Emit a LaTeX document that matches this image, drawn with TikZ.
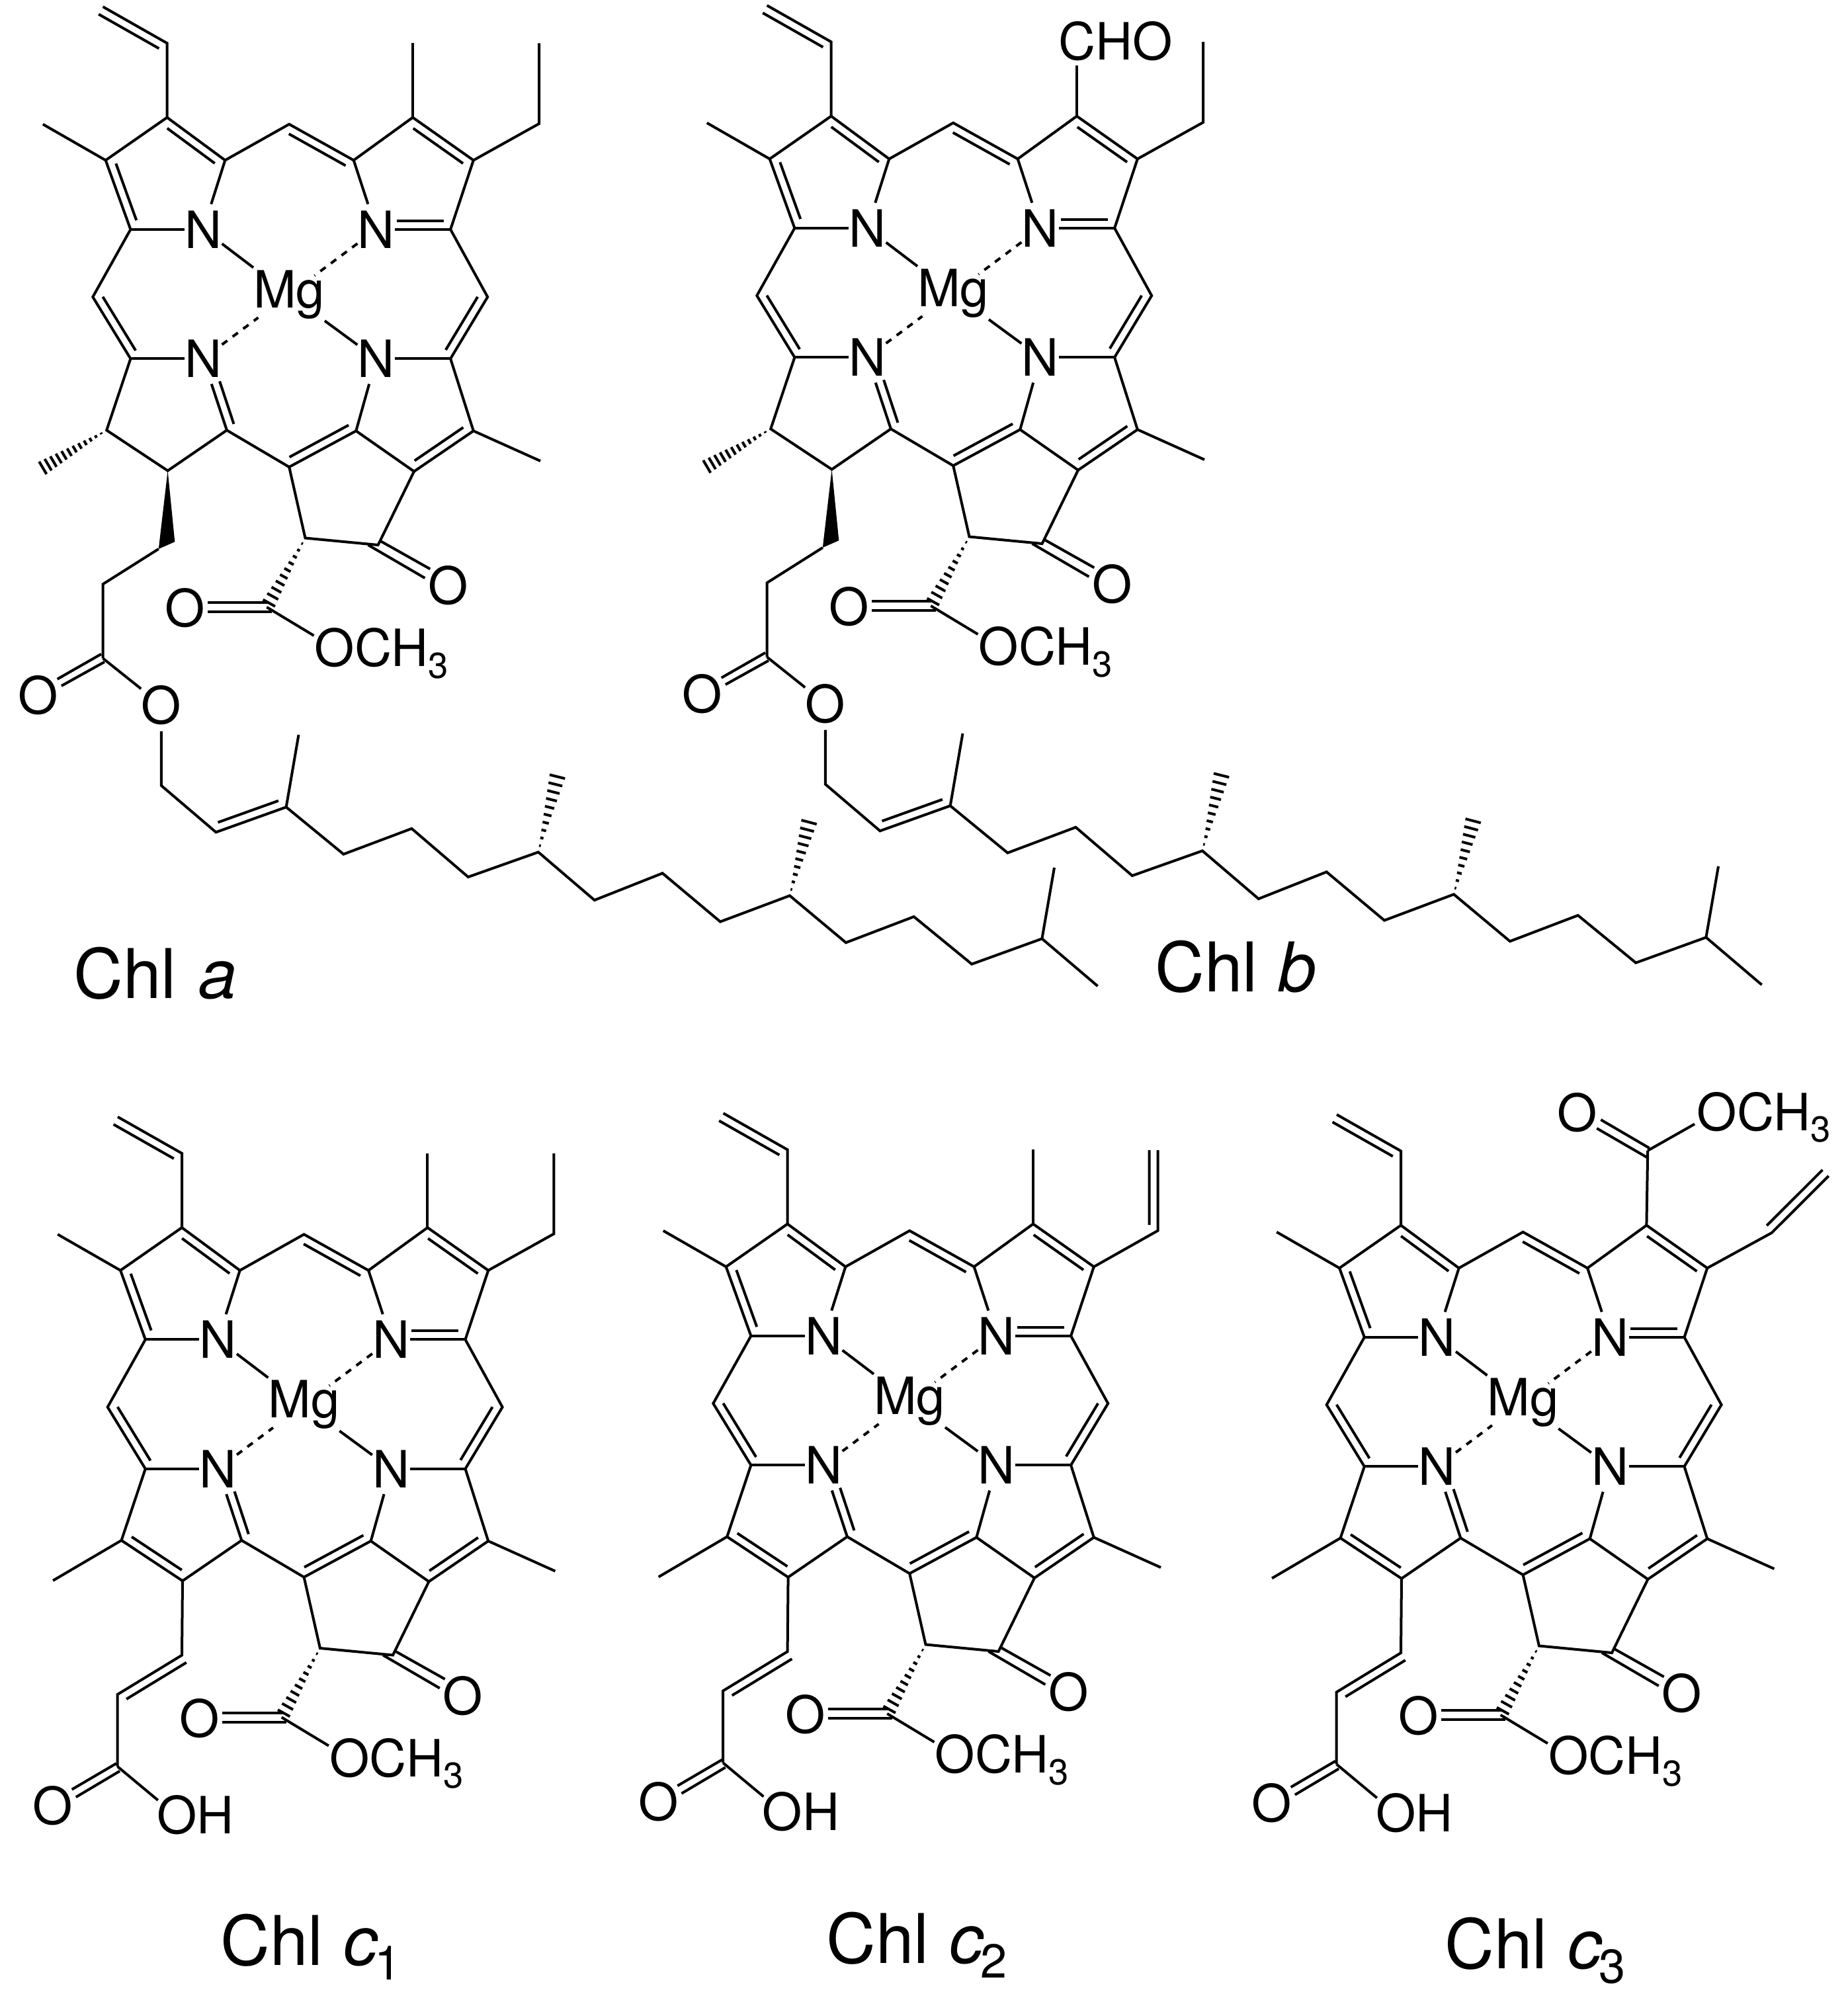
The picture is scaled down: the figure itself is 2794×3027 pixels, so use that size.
\documentclass[tikz,border=0pt]{standalone}
\usepackage{fontspec}
\setmainfont{TeX Gyre Heros}
\usetikzlibrary{calc}
\newcommand\atomfont{\fontsize{44.2}{50}\selectfont}
\newcommand\titlefont{\fontsize{59}{64}\selectfont}
\newcommand\methyl{OCH\raisebox{-9.8pt}{\fontsize{31}{31}\selectfont 3}}
\newcommand\chlsub[1]{\kern-3pt\raisebox{-13pt}{\fontsize{41}{41}\selectfont #1}}
\tikzset{
  bond/.style={line width=.8mm,line join=miter,black},
  dashbond/.style={bond,dash pattern=on 2mm off 2mm},
  atom/.style={font=\atomfont,inner xsep=.1mm,inner ysep=2mm,outer sep=0pt},
  mglabel/.style={font=\atomfont,inner xsep=0mm,inner ysep=1.4mm,outer sep=0pt,anchor=base},
  lab/.style={font=\atomfont,inner sep=0pt,anchor=base west},
  chltitle/.style={font=\titlefont,inner sep=0pt,anchor=base west}
}
% inner line of a double bond: from, to, side angle, start fraction, end fraction
\newcommand\dline[5]{\draw[bond] ($(#1)!#4!(#2)!2.6mm!#3:(#2)$) -- ($(#1)!#5!(#2)!2.6mm!#3:(#2)$);}
% hashed bond: from, to, number of strokes, largest half width (mm)
\newcommand\hashb[4]{%
  \foreach \i in {1,...,#3}{%
    \pgfmathsetmacro\tt{0.08+0.86*(\i-1)/(#3-1)}%
    \pgfmathsetmacro\ww{0.25+(#4-0.25)*(\i-1)/(#3-1)}%
    \draw[bond] ($(#1)!\tt!(#2)!\ww mm!90:(#2)$) -- ($(#1)!\tt!(#2)!\ww mm!-90:(#2)$);
  }}
\newcommand\chlcore{%
  \coordinate (A1) at (197.4,346.9); \coordinate (A2) at (159.7,242.3);
  \coordinate (A3) at (252.6,177.6); \coordinate (A4) at (340.3,242.3);
  \coordinate (M1) at (437.2,187.8);
  \coordinate (B1) at (534.7,242.3); \coordinate (B2) at (624,177.6);
  \coordinate (B3) at (715.8,242.3); \coordinate (B4) at (681.1,346.9);
  \coordinate (M2) at (737.2,449);
  \coordinate (C1) at (681.1,542.3); \coordinate (C2) at (715.8,651.5);
  \coordinate (C3) at (626,712.8);   \coordinate (C4) at (538.3,651.5);
  \coordinate (M3) at (437.2,706.1);
  \coordinate (D1) at (342.9,650.5); \coordinate (D2) at (253.6,711.7);
  \coordinate (D3) at (161.2,650.5); \coordinate (D4) at (197.4,542.3);
  \coordinate (M4) at (140.3,449);
  \node[atom] (N1) at (307.1,346.9) {N};
  \node[atom] (N2) at (568.9,346.9) {N};
  \node[atom] (N3) at (568.9,542.3) {N};
  \node[atom] (N4) at (307.1,542.3) {N};
  \node[mglabel] (Mg) at (437,465.3) {Mg};
  \draw[bond] (A1) -- (A2) -- (A3) -- (A4) -- (M1) -- (B1) -- (B2) -- (B3) -- (B4) -- (M2) -- (C1) -- (C2) -- (C3) -- (C4) -- (M3) -- (D1) -- (D2) -- (D3) -- (D4) -- (M4) -- cycle;
  \draw[bond] (A1) -- (N1); \draw[bond] (A4) -- (N1);
  \draw[bond] (B1) -- (N2); \draw[bond] (B4) -- (N2);
  \draw[bond] (C1) -- (N3); \draw[bond] (C4) -- (N3);
  \draw[bond] (D4) -- (N4); \draw[bond] (D1) -- (N4);
  \draw[bond] (N1) -- (Mg); \draw[bond] (N3) -- (Mg);
  \draw[dashbond,shorten >=9.6mm] (N2) -- (Mg.center);
  \draw[dashbond,shorten >=11.6mm] (N4) -- (Mg.center);
  \dline{A2}{A1}{90}{.09}{.91}
  \dline{A3}{A4}{-90}{.09}{.91}
  \dline{M1}{B1}{-90}{.06}{.94}
  \dline{B2}{B3}{-90}{.09}{.91}
  \dline{N2}{B4}{90}{.273}{.91}
  \dline{M2}{C1}{-90}{.07}{.93}
  \dline{C2}{C3}{-90}{.09}{.91}
  \dline{C4}{M3}{-90}{.05}{.935}
  \dline{N4}{D1}{90}{.354}{.95}
  \dline{D4}{M4}{-90}{.06}{.93}
  % five-membered ring and ester
  \coordinate (E1) at (461.5,813.5); \coordinate (E2) at (571.6,824);
  \coordinate (E3) at (403.3,918);
  \draw[bond] (M3) -- (E1) -- (E2) -- (C3);
  \node[atom] (Ok) at (677.6,885.5) {O};
  \coordinate (Ka) at (576,818.5); \coordinate (Kb) at (650.3,860.3);
  \coordinate (Kc) at (556.6,824); \coordinate (Kd) at (642.4,874);
  \draw[bond] (Ka) -- (Kb); \draw[bond] (Kc) -- (Kd);
  \hashb{E1}{E3}{10}{2.1}
  \node[atom] (Oe) at (279.6,919.5) {O};
  \coordinate (Ea) at (405.6,911.4); \coordinate (Eb) at (314,911.4);
  \coordinate (Ec) at (410.7,925);   \coordinate (Ed) at (314,925);
  \draw[bond] (Ea) -- (Eb); \draw[bond] (Ec) -- (Ed);
  \node[lab] (Om) at (475.6,1007.9) {\methyl};
  \coordinate (Emb) at (474.5,961);
  \draw[bond] (E3) -- (Emb);
  % substituents shared by all
  \coordinate (Vc) at (252.6,65.3); \coordinate (Vt) at (155.6,10.2);
  \draw[bond] (A3) -- (Vc) -- (Vt);
  \dline{Vt}{Vc}{-90}{0}{.94}
  \coordinate (Ma) at (64.8,187.8);
  \draw[bond] (A2) -- (Ma);
  \coordinate (Mb) at (624,65.3);
  \coordinate (Mc) at (817,697);
  \draw[bond] (C2) -- (Mc);
}
% methyl on ring B
\newcommand\bmethyl{\draw[bond] (B2) -- (Mb);}
% ethyl on ring B
\newcommand\bethyl{%
  \coordinate (Ea1) at (815,187); \coordinate (Ea2) at (815,65.3);
  \draw[bond] (B3) -- (Ea1) -- (Ea2);}
% saturated ring D with phytyl ester (Chl a, b)
\newcommand\phytylpart{%
  \coordinate (Dm) at (58.6,711);
  \hashb{D3}{Dm}{12}{2.2}
  \coordinate (Wa) at (264.3,819.2); \coordinate (Wb) at (239.8,830);
  \fill (D2) -- (Wa) -- (Wb) -- cycle;
  \coordinate (Ca) at (155.6,883.2); \coordinate (Cc) at (155.6,995.4);
  \draw[bond] (Wb) -- (Ca) -- (Cc);
  \coordinate (Ra) at (153,988.9);  \coordinate (Rb) at (86.7,1026.8);
  \coordinate (Rc) at (158,1000.8); \coordinate (Rd) at (92.9,1037);
  \draw[bond] (Ra) -- (Rb); \draw[bond] (Rc) -- (Rd);
  \node[atom] (Oc) at (57.7,1051.2) {O};
  \node[atom] (Oy) at (243.9,1065.9) {O};
  \draw[bond] (Cc) -- (Oy);
  \coordinate (P1) at (243.9,1187.8); \coordinate (P2) at (326.5,1258.3);
  \coordinate (P3) at (432.7,1220.3); \coordinate (Pm) at (451.5,1111);
  \coordinate (P4) at (519.4,1291.5); \coordinate (P5) at (622.4,1252.8);
  \coordinate (P6) at (707.8,1326);   \coordinate (T2) at (813.9,1288.4);
  \coordinate (T3) at (898.8,1361);   \coordinate (T4) at (1001.6,1320.3);
  \coordinate (T5) at (1089,1393.6);  \coordinate (T6) at (1194,1354.2);
  \coordinate (T7) at (1278.9,1425.2);\coordinate (T8) at (1381.7,1386);
  \coordinate (T9) at (1469.2,1457.7);\coordinate (T10) at (1575.4,1419.3);
  \coordinate (Tm) at (1594,1311.8);  \coordinate (Te) at (1659.6,1491);
  \coordinate (Ha) at (844.4,1167);   \coordinate (Hb) at (1225,1236);
  \draw[bond] (Oy) -- (P1) -- (P2) -- (P3) -- (P4) -- (P5) -- (P6) -- (T2) -- (T3) -- (T4) -- (T5) -- (T6) -- (T7) -- (T8) -- (T9) -- (T10) -- (Te);
  \draw[bond] (P3) -- (Pm);
  \draw[bond] (T10) -- (Tm);
  \dline{P2}{P3}{90}{.07}{.93}
  \hashb{T2}{Ha}{10}{2.4}
  \hashb{T6}{Hb}{10}{2.4}
}
% unsaturated ring D with acrylic acid (Chl c)
\newcommand\acrylicpart{%
  \coordinate (Dn) at (57.7,711.3);
  \draw[bond] (D3) -- (Dn);
  \dline{D3}{D2}{90}{.09}{.91}
  \coordinate (S1) at (252.6,824.1); \coordinate (S2) at (155.2,883.5);
  \coordinate (S3) at (155.2,992.4);
  \draw[bond] (D2) -- (S1) -- (S2) -- (S3);
  \dline{S1}{S2}{90}{0}{.93}
  \coordinate (Ra) at (153.6,987.7); \coordinate (Rb) at (86.3,1027.1);
  \coordinate (Rc) at (158.7,999.3); \coordinate (Rd) at (92.4,1038.7);
  \draw[bond] (Ra) -- (Rb); \draw[bond] (Rc) -- (Rd);
  \node[atom] (Oc) at (57.7,1051.3) {O};
  \node[lab] (OH) at (214.4,1094.4) {OH};
  \coordinate (Shb) at (216.4,1043.4);
  \draw[bond] (S3) -- (Shb);
}
\begin{document}
\begin{tikzpicture}[x=.2mm,y=-.2mm]
\useasboundingbox (0,0) rectangle (2794,3027);
% Chl a
\begin{scope}[name prefix=a-]
  \chlcore \bmethyl \bethyl \phytylpart
\end{scope}
% Chl b
\begin{scope}[shift={(1004,-2)},name prefix=b-]
  \chlcore \bethyl \phytylpart
  \node[lab] (CHO) at (596.6,92.7) {CHO};
  \coordinate (Chob) at (624,101);
  \draw[bond] (B2) -- (Chob);
\end{scope}
% Chl c1
\begin{scope}[shift={(22.4,1678.5)},name prefix=c1-]
  \chlcore \bmethyl \bethyl \acrylicpart
\end{scope}
% Chl c2
\begin{scope}[shift={(938,1673)},name prefix=c2-]
  \chlcore \bmethyl \acrylicpart
  \coordinate (Va) at (812.5,187.7); \coordinate (Vb) at (812.5,66);
  \draw[bond] (B3) -- (Va) -- (Vb);
  \dline{Vb}{Va}{-90}{0}{.93}
\end{scope}
% Chl c3
\begin{scope}[shift={(1865.4,1675)},name prefix=c3-]
  \chlcore \acrylicpart
  \coordinate (Kc1) at (625.8,64.7);
  \draw[bond] (B2) -- (Kc1);
  \coordinate (Qa) at (628.3,60.9); \coordinate (Qb) at (554.9,18);
  \coordinate (Qc) at (624.8,75);   \coordinate (Qd) at (548.8,31);
  \draw[bond] (Qa) -- (Qb); \draw[bond] (Qc) -- (Qd);
  \node[atom] (Ot) at (519.5,7.3) {O};
  \node[lab] (Omt) at (699.8,34) {\methyl};
  \coordinate (Omb) at (696.7,24.5);
  \draw[bond] (Kc1) -- (Omb);
  \coordinate (Va) at (813.2,189); \coordinate (Vb) at (899.3,103);
  \draw[bond] (B3) -- (Va) -- (Vb);
  \dline{Vb}{Va}{-90}{0}{.98}
\end{scope}
% titles
\node[chltitle] (titlea) at (111,1509) {Chl\kern3pt\ \textit{a}};
\node[chltitle] (titleb) at (1746,1499) {Chl\kern1pt\ \textit{b}};
\node[chltitle] (titlec1) at (333,2971) {Chl\kern1pt\ \textit{c}\chlsub{1}};
\node[chltitle] (titlec2) at (1249,2968) {Chl\kern1pt\ \textit{c}\chlsub{2}};
\node[chltitle] (titlec3) at (2184,2976) {Chl\kern1pt\ \textit{c}\chlsub{3}};
\end{tikzpicture}
\end{document}
